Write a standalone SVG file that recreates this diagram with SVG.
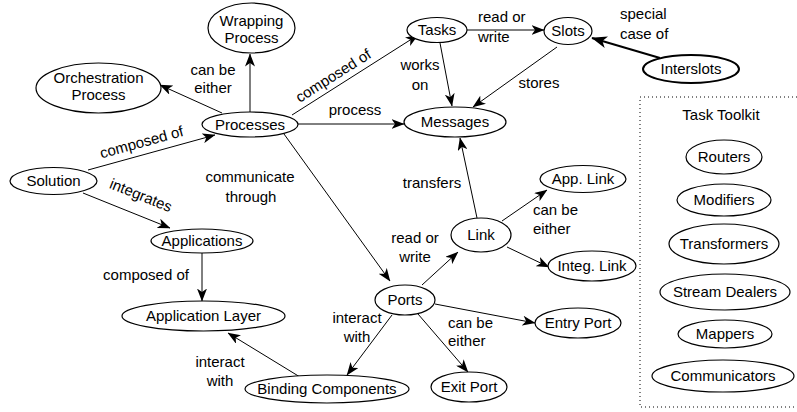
<svg xmlns="http://www.w3.org/2000/svg" width="797" height="412" viewBox="0 0 797 412">
<defs>
<marker id="arr" viewBox="0 0 13 10" refX="12.5" refY="5" markerWidth="13" markerHeight="10" markerUnits="userSpaceOnUse" orient="auto">
<path d="M0,0 L13,5 L0,10 L3.5,5 z" fill="#000"/>
</marker>
<marker id="arrb" viewBox="0 0 13 10" refX="12.5" refY="5" markerWidth="16" markerHeight="12" markerUnits="userSpaceOnUse" orient="auto">
<path d="M0,0 L13,5 L0,10 L3.5,5 z" fill="#000"/>
</marker>
<style>
text{font-family:"Liberation Sans",Arial,sans-serif;font-size:15px;fill:#000}
.n ellipse{fill:#fff;stroke:#000;stroke-width:1.2}
.n text{text-anchor:middle}
.c line{stroke:#000;stroke-width:1;marker-end:url(#arr)}
.c line.b{stroke-width:2;marker-end:url(#arrb)}
.m{text-anchor:middle}
</style>
</defs>
<rect width="797" height="412" fill="#fff"/>
<rect x="640" y="97" width="170" height="310" fill="none" stroke="#000" stroke-width="1" stroke-dasharray="1,3"/>
<text x="721" y="120" class="m">Task Toolkit</text>
<g class="c" id="connectors">
<line x1="88" y1="170" x2="215" y2="135"/>
<line x1="83" y1="193" x2="170" y2="228"/>
<line x1="202" y1="253" x2="202" y2="301"/>
<line x1="300" y1="377" x2="228" y2="333"/>
<line x1="222" y1="113" x2="160" y2="85"/>
<line x1="250" y1="112" x2="250" y2="54"/>
<line x1="292" y1="115" x2="418" y2="35"/>
<line x1="298" y1="124" x2="404" y2="124"/>
<line x1="440" y1="43" x2="452" y2="106"/>
<line x1="467" y1="30" x2="544" y2="30"/>
<line x1="557" y1="47" x2="473" y2="107"/>
<line class="b" x1="660" y1="58" x2="592" y2="38"/>
<line x1="284" y1="134" x2="390" y2="281"/>
<line x1="422" y1="285" x2="458" y2="252"/>
<line x1="477" y1="218" x2="460" y2="138"/>
<line x1="502" y1="221" x2="547" y2="190"/>
<line x1="507" y1="247" x2="549" y2="267"/>
<line x1="435" y1="304" x2="535" y2="323"/>
<line x1="418" y1="314" x2="468" y2="372"/>
<line x1="392" y1="315" x2="347" y2="375"/>
</g>
<g id="labels">
<text x="143" y="147" class="m" transform="rotate(-15.4 143 147)">composed of</text>
<text x="139" y="200" class="m" transform="rotate(22 139 200)">integrates</text>
<text x="146" y="280" class="m">composed of</text>
<text x="220" y="367" class="m">interact</text>
<text x="220" y="386" class="m">with</text>
<text x="213" y="75" class="m">can be</text>
<text x="213" y="93" class="m">either</text>
<text x="336" y="80" class="m" transform="rotate(-32.4 336 80)">composed of</text>
<text x="355" y="115" class="m">process</text>
<text x="420" y="70" class="m">works</text>
<text x="420" y="90" class="m">on</text>
<text x="478" y="22">read or</text>
<text x="478" y="42">write</text>
<text x="539" y="88" class="m">stores</text>
<text x="620" y="19">special</text>
<text x="620" y="39">case of</text>
<text x="250" y="182" class="m">communicate</text>
<text x="251" y="202" class="m">through</text>
<text x="415" y="243" class="m">read or</text>
<text x="415" y="262" class="m">write</text>
<text x="432" y="188" class="m">transfers</text>
<text x="533" y="215">can be</text>
<text x="533" y="234">either</text>
<text x="448" y="328">can be</text>
<text x="448" y="346">either</text>
<text x="357" y="323" class="m">interact</text>
<text x="357" y="342" class="m">with</text>
</g>
<g class="n" id="wrapping"><ellipse cx="251.5" cy="28" rx="43.5" ry="25"/><text x="251.5" y="26">Wrapping</text><text x="251.5" y="43">Process</text></g>
<g class="n" id="orchestration"><ellipse cx="98.5" cy="88" rx="62.5" ry="25"/><text x="98.5" y="83">Orchestration</text><text x="98.5" y="100">Process</text></g>
<g class="n" id="processes"><ellipse cx="250" cy="124.5" rx="48" ry="12.5"/><text x="250" y="130">Processes</text></g>
<g class="n" id="tasks"><ellipse cx="437" cy="30" rx="30" ry="12.5"/><text x="437" y="35">Tasks</text></g>
<g class="n" id="slots"><ellipse cx="568" cy="31" rx="24" ry="13.5"/><text x="568" y="36">Slots</text></g>
<g class="n" id="interslots"><ellipse cx="691" cy="69" rx="48" ry="14" style="stroke-width:2"/><text x="691" y="74">Interslots</text></g>
<g class="n" id="messages"><ellipse cx="455" cy="122" rx="51" ry="15"/><text x="455" y="127">Messages</text></g>
<g class="n" id="solution"><ellipse cx="53.5" cy="181" rx="43.5" ry="13.5"/><text x="53.5" y="186">Solution</text></g>
<g class="n" id="applications"><ellipse cx="202" cy="241" rx="51" ry="12"/><text x="202" y="246">Applications</text></g>
<g class="n" id="applayer"><ellipse cx="203.5" cy="316" rx="81.5" ry="15"/><text x="203.5" y="321">Application Layer</text></g>
<g class="n" id="binding"><ellipse cx="327" cy="389" rx="82" ry="14"/><text x="327" y="394">Binding Components</text></g>
<g class="n" id="ports"><ellipse cx="405" cy="300" rx="30" ry="15"/><text x="405" y="305">Ports</text></g>
<g class="n" id="exitport"><ellipse cx="469" cy="387" rx="38" ry="15"/><text x="469" y="392">Exit Port</text></g>
<g class="n" id="entryport"><ellipse cx="578" cy="323" rx="43" ry="15"/><text x="578" y="328">Entry Port</text></g>
<g class="n" id="link"><ellipse cx="481" cy="235" rx="30" ry="17"/><text x="481" y="240">Link</text></g>
<g class="n" id="applink"><ellipse cx="583" cy="179" rx="43" ry="13.5"/><text x="583" y="184">App. Link</text></g>
<g class="n" id="integlink"><ellipse cx="592" cy="266" rx="44" ry="15"/><text x="592" y="271">Integ. Link</text></g>
<g class="n" id="routers"><ellipse cx="724" cy="157" rx="38" ry="17"/><text x="724" y="162">Routers</text></g>
<g class="n" id="modifiers"><ellipse cx="724" cy="200" rx="47" ry="16"/><text x="724" y="205">Modifiers</text></g>
<g class="n" id="transformers"><ellipse cx="724" cy="244" rx="55" ry="20"/><text x="724" y="249">Transformers</text></g>
<g class="n" id="streamdealers"><ellipse cx="725" cy="292" rx="65" ry="18"/><text x="725" y="297">Stream Dealers</text></g>
<g class="n" id="mappers"><ellipse cx="725" cy="334" rx="47" ry="14"/><text x="725" y="339">Mappers</text></g>
<g class="n" id="communicators"><ellipse cx="723" cy="376" rx="71" ry="16"/><text x="723" y="381">Communicators</text></g>
</svg>
